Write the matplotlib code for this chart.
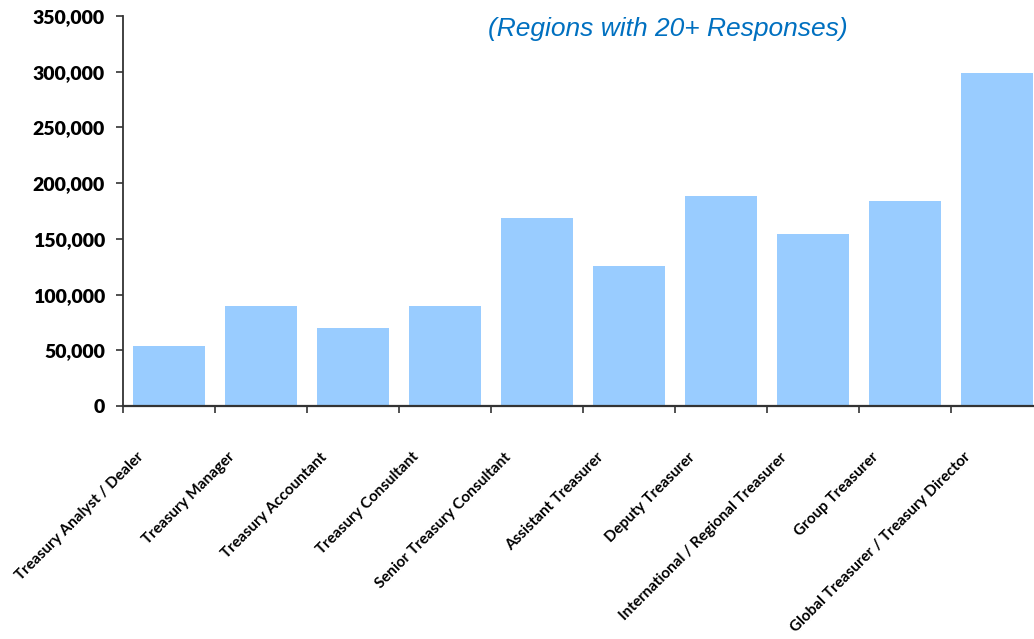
import matplotlib
matplotlib.use("Agg")
import matplotlib.pyplot as plt
import matplotlib.transforms as mtransforms

# data
roles = [
    "Treasury Analyst / Dealer",
    "Treasury Manager",
    "Treasury Accountant",
    "Treasury Consultant",
    "Senior Treasury Consultant",
    "Assistant Treasurer",
    "Deputy Treasurer",
    "International / Regional Treasurer",
    "Group Treasurer",
    "Global Treasurer / Treasury Director",
]
salaries = [54000, 90000, 70000, 90000, 169000, 126000, 188500, 154500, 184000, 299000]
y_ticks = [0, 50000, 100000, 150000, 200000, 250000, 300000, 350000]

fig = plt.figure(figsize=(10.34, 6.39), dpi=100)
ax = fig.add_axes([0.119, 0.3646, 0.8894, 0.6103])

x = range(len(roles))
ax.bar(x, salaries, width=0.78, color="#99CCFF", zorder=2)

ax.set_xlim(-0.5, len(roles) - 0.5)
ax.set_ylim(0, 350000)
ax.set_yticks(y_ticks, labels=[f"{v:,}" for v in y_ticks],
              fontfamily="Lato", fontweight="heavy", fontsize=14)

# tick marks between categories, labels placed separately
ax.set_xticks([i - 0.5 for i in range(len(roles) + 1)])
ax.set_xticklabels([])
ax.tick_params(axis="x", direction="out", length=5, width=1.2, color="#333333")
ax.tick_params(axis="y", direction="out", length=5, width=1.2, color="#333333", pad=8)

for s in ["top", "right"]:
    ax.spines[s].set_visible(False)
ax.spines["left"].set_color("#333333")
ax.spines["left"].set_linewidth(1.3)
ax.spines["bottom"].set_color("#333333")
ax.spines["bottom"].set_linewidth(1.6)

base = mtransforms.blended_transform_factory(ax.transData, ax.transAxes)
shift = mtransforms.ScaledTranslation(-28 / 100, -49 / 100, fig.dpi_scale_trans)
for i, name in enumerate(roles):
    ax.text(i, 0, name, transform=base + shift, rotation=45,
            rotation_mode="anchor", ha="right", va="center",
            fontsize=11, fontfamily="Lato", fontweight="bold")

fig.text(0.6455, 0.955, "(Regions with 20+ Responses)", ha="center", va="center",
         fontsize=19, fontstyle="italic", color="#0070C0",
         fontfamily="Liberation Sans")

fig.savefig("out.png", dpi=100)
